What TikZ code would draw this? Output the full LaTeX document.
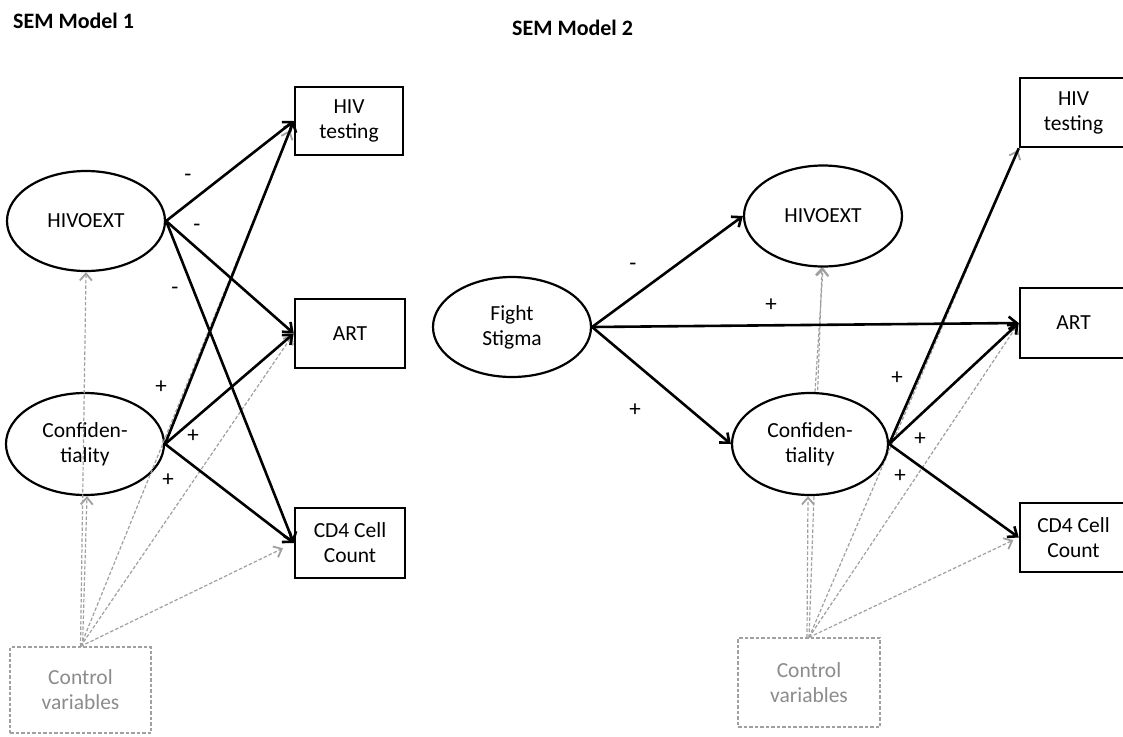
\documentclass[tikz,border=0pt]{standalone}
\usepackage{fontspec}
\setmainfont{Carlito}
\usetikzlibrary{arrows.meta,shapes.geometric}
\definecolor{ctrlline}{RGB}{160,160,160}
\definecolor{ctrltext}{RGB}{140,140,140}
\begin{document}
\begin{tikzpicture}[x=1pt,y=-1pt,
  every node/.style={font=\fontsize{21.5}{25}\selectfont, inner sep=0pt},
  title/.style={anchor=west, font=\fontsize{22}{25}\selectfont\bfseries},
  obs/.style={draw, line width=2.5pt, rectangle, align=center},
  lat/.style={draw, line width=2.2pt, ellipse, align=center},
  ctrlbox/.style={draw=ctrlline, line width=1.2pt, dash pattern=on 3.5pt off 2pt,
    rectangle, align=center, text=ctrltext},
  effect/.style={line width=2.6pt, -{Straight Barb[length=8pt,width=13pt]}},
  ctrl/.style={ctrlline, line width=1.2pt, dash pattern=on 3.5pt off 2pt,
    -{Straight Barb[length=7pt,width=12pt,line width=1.8pt]}},
  sign/.style={font=\fontsize{23}{26}\selectfont},
]
\useasboundingbox (0,0) rectangle (1123,736);
\clip (0,0) rectangle (1123,736);
\fill[white] (0,0) rectangle (1123,736);

% ---------------- Model 1 ----------------
\node[title] (t1) at (13,21) {SEM Model 1};

\node[obs, minimum width=108pt, minimum height=68pt] (h1) at (349,121) {HIV\\testing};
\node[obs, minimum width=110pt, minimum height=69pt] (a1) at (350,333.5) {ART};
\node[obs, minimum width=110pt, minimum height=70pt] (c1) at (350,543) {CD4 Cell\\Count};
\node[lat, minimum width=158pt, minimum height=100pt] (e1) at (86,221) {HIVOEXT};
\node[lat, minimum width=158pt, minimum height=102pt] (f1) at (85,444) {Confiden-\\tiality};
\node[ctrlbox, minimum width=141pt, minimum height=86pt] (k1) at (80.5,690) {Control\\variables};

% control paths
\draw[ctrl] (k1.north) -- (e1.south);
\draw[ctrl] ([xshift=2pt]k1.north) -- ([xshift=2pt]f1.south);
\draw[ctrl, shorten >=10pt] (k1.north) -- (h1.west);
\draw[ctrl, shorten >=2pt] (k1.north) -- (a1.west);
\draw[ctrl, shorten >=12pt] (k1.north) -- (c1.west);

% structural paths
\draw[effect] (e1.east) -- (h1.west);
\draw[effect] (e1.east) -- (a1.west);
\draw[effect] (e1.east) -- (c1.west);
\draw[effect] (f1.east) -- (h1.west);
\draw[effect] (f1.east) -- (a1.west);
\draw[effect] (f1.east) -- (c1.west);

\node[sign] (s11) at (188,178) {-};
\node[sign] (s12) at (197,228) {-};
\node[sign] (s13) at (175,291) {-};
\node[sign] (s14) at (161,387) {+};
\node[sign] (s15) at (193,436) {+};
\node[sign] (s16) at (168,480) {+};

% ---------------- Model 2 ----------------
\node[title] (t2) at (512,28) {SEM Model 2};

\node[obs, minimum width=107pt, minimum height=69pt] (h2) at (1073.5,112.5) {HIV\\testing};
\node[obs, minimum width=107pt, minimum height=70pt] (a2) at (1073.5,323) {ART};
\node[obs, minimum width=107pt, minimum height=69pt] (c2) at (1073.5,537.5) {CD4 Cell\\Count};
\node[ctrlbox, minimum width=142pt, minimum height=89pt] (k2) at (809,682.5) {Control\\variables};

% control paths (behind the latent variables)
\draw[ctrl] (k2.north) -- (822,267);
\draw[ctrl, shorten >=2pt] (k2.north) -- (h2.south west);
\draw[ctrl, shorten >=2pt] (k2.north) -- (a2.west);
\draw[ctrl, shorten >=6pt] (k2.north) -- (c2.west);

\node[lat, fill=white, minimum width=158pt, minimum height=100pt] (fs) at (512,327) {Fight\\Stigma};
\node[lat, fill=white, minimum width=158pt, minimum height=101pt] (e2) at (823,216) {HIVOEXT};
\node[lat, fill=white, minimum width=156pt, minimum height=102pt] (f2) at (810,444) {Confiden-\\tiality};

\draw[ctrl] ([xshift=-2pt]k2.north) -- ([xshift=-2pt]f2.south);
\draw[ctrl] ([xshift=5pt]f2.north) -- (e2.south);

\draw[effect] (fs.east) -- (e2.west);
\draw[effect] (fs.east) -- (a2.west);
\draw[effect] (fs.east) -- (f2.west);
\draw[line width=2.6pt] (f2.east) -- (h2.south west);
\draw[effect] (f2.east) -- (a2.west);
\draw[effect] (f2.east) -- (c2.west);

\node[sign] (s21) at (633,267) {-};
\node[sign] (s22) at (771,305) {+};
\node[sign] (s23) at (635,410) {+};
\node[sign] (s24) at (897,378) {+};
\node[sign] (s25) at (920,439) {+};
\node[sign] (s26) at (900,476) {+};
\end{tikzpicture}
\end{document}
